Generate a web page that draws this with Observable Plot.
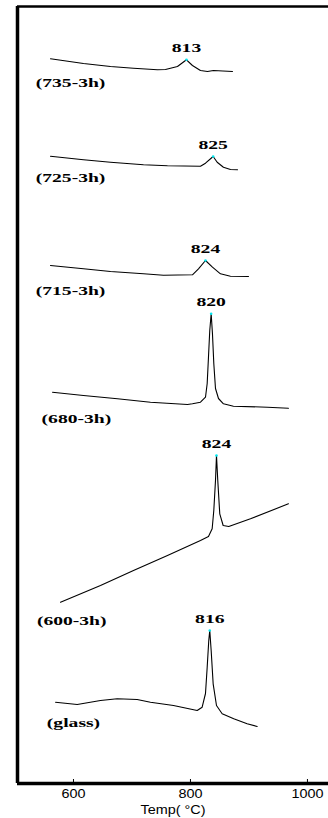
<!DOCTYPE html>
<html><head><meta charset="utf-8">
<script src="https://cdn.jsdelivr.net/npm/d3@7"></script>
<script src="https://cdn.jsdelivr.net/npm/@observablehq/plot@0.6"></script>
<style>body{margin:0;background:#fff} .serif text{font-family:"Liberation Serif",serif !important;}</style>
</head><body><div id="chart"></div>
<script>
// Sample names (top to bottom) and the annotated peak temperatures
const samples = ["(735-3h)", "(725-3h)", "(715-3h)", "(680-3h)", "(600-3h)", "(glass)"];
const peakTemps = [813, 825, 824, 820, 824, 816];

// DTA traces: temperature (°C) and signal (arbitrary units, stacked offsets)
const temp735 = [560.7, 617.1, 663.3, 702.6, 743.6, 757.3, 777.8, 793.2, 803.4, 817.1, 829.1, 839.3, 871.8];
const sig735  = [724.7, 720, 717, 715.3, 713.7, 714, 717, 723.7, 718, 713, 712, 713, 712];

const temp725 = [560.7, 617.1, 663.3, 719.7, 760.7, 817.1, 825.7, 838.8, 845.7, 856.4, 868.4, 880.4];
const sig725  = [627.3, 623.7, 621.3, 618.7, 617.7, 617.3, 620.3, 627, 621.3, 616.3, 614, 613.7];

const temp715 = [560.7, 617.1, 663.3, 719.7, 753.9, 803.4, 813.7, 825.7, 837.6, 851.3, 868.4, 899.2];
const sig715  = [518, 514.7, 512, 509.7, 508.3, 508.7, 514.7, 523, 516.3, 509.7, 507.3, 507];

const temp680 = [564.1, 617.1, 675.2, 731.6, 794.9, 803.4, 817.1, 825.7, 828.6, 830.8, 833.0, 835.4, 837.6, 839.9, 842.8, 847.9, 856.4, 873.5, 931.7, 967.5];
const sig680  = [391.3, 388, 384.7, 381.3, 379, 379.7, 381.3, 386.3, 400, 426.3, 453, 469.7, 450, 420, 395, 385, 379.7, 377.3, 376.3, 375.3];

const temp600 = [577.8, 646.2, 702.6, 760.7, 817.1, 830.8, 837.1, 839.9, 842.8, 844.5, 846.7, 850.1, 855.9, 865.5, 902.6, 967.5];
const sig600  = [181.3, 198, 213, 228, 243, 247, 254.7, 273, 303, 328, 303, 269.7, 258, 257, 264.7, 279.7];

const tempGlass = [569.3, 606.4, 646.2, 674.7, 708.9, 731.6, 771.0, 811.5, 820.0, 825.7, 828.6, 831.3, 833.0, 835.4, 838.8, 844.5, 854.2, 874.0, 896.9, 914.0];
const sigGlass  = [81.3, 79, 83, 84.7, 84, 81.3, 78, 73, 76.3, 90, 116.3, 143, 153, 133, 99.7, 78, 69.7, 64.7, 59.7, 57];

// Where each sample name sits (data units)
const sampleLabelTemp = [595, 595, 595, 605, 597, 600];
const sampleLabelSig  = [701, 606, 493, 365, 163, 61];

const xTicks = [600, 800, 1000];
const xLabel = "Temp( °C)";

const curves = [[temp735, sig735], [temp725, sig725], [temp715, sig715], [temp680, sig680], [temp600, sig600], [tempGlass, sigGlass]];
const rows = curves.flatMap(([t, s], i) => t.map((x, j) => ({sample: samples[i], temp: x, signal: s[j]})));
const peaks = curves.map(([t, s], i) => {
  let best = -1;
  t.forEach((x, j) => { if (x > 780 && (best < 0 || s[j] > s[best])) best = j; });
  return {sample: samples[i], temp: t[best], signal: s[best], label: String(peakTemps[i])};
});
const sampleLabels = samples.map((name, i) => ({name, temp: sampleLabelTemp[i], signal: sampleLabelSig[i]}));

const serif = "Liberation Serif";
const sans = "Liberation Sans";
const xMin = 504.3;

const plot = Plot.plot({
  width: 328, height: 818,
  marginLeft: 17, marginRight: 0, marginTop: 6, marginBottom: 35,
  x: {domain: [xMin, 1036], label: null},
  y: {domain: [0, 777], axis: null},
  style: {background: "#fff", color: "#000"},
  marks: [
    Plot.ruleY([777], {stroke: "#000", strokeWidth: 2.5}),
    Plot.ruleY([0], {stroke: "#000", strokeWidth: 3.5}),
    Plot.ruleX([xMin], {stroke: "#000", strokeWidth: 3.5}),
    Plot.ruleX(xTicks, {y1: 0, y2: 4, stroke: "#000", strokeWidth: 1}),
    Plot.axisX({ticks: xTicks, tickSize: 0, tickPadding: 6, fontSize: 12, fontFamily: sans, tickFormat: d => String(d), label: null}),
    Plot.line(rows, {x: "temp", y: "signal", z: "sample", stroke: "#000", strokeWidth: 1.1}),
    Plot.dot(peaks, {x: "temp", y: "signal", r: 1.3, fill: "#00e8f0", stroke: null}),
    Plot.text(peaks, {x: "temp", y: "signal", text: "label", dy: -12, fontSize: 13.5, fontWeight: "bold", fontFamily: serif}),
    Plot.text(sampleLabels, {x: "temp", y: "signal", text: "name", fontSize: 13.5, fontWeight: "bold", fontFamily: serif}),
    Plot.text([xLabel], {frameAnchor: "bottom", lineAnchor: "top", dy: 22, fontSize: 12, fontFamily: sans})
  ]
});
document.getElementById("chart").appendChild(plot);

// widen glyphs horizontally like the original scan
plot.querySelectorAll("text").forEach(t => {
  const len = t.getComputedTextLength();
  if (!len) return;
  const fam = getComputedStyle(t).fontFamily;
  const f = fam.includes("Serif") ? 1.45 : 1.2;
  t.setAttribute("textLength", (len * f).toFixed(1));
  t.setAttribute("lengthAdjust", "spacingAndGlyphs");
});
</script>
</body></html>
